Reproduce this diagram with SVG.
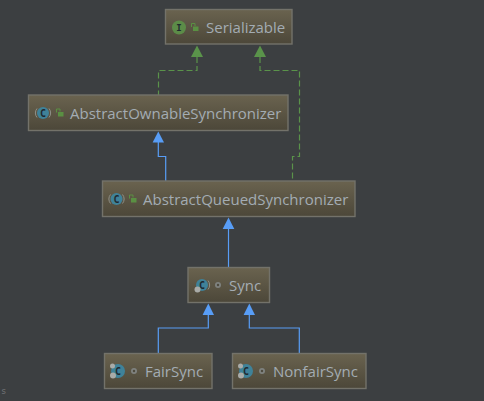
<svg xmlns="http://www.w3.org/2000/svg" width="484" height="401" viewBox="0 0 484 401">
<style>
.box{fill:url(#g);stroke:#73726a;stroke-width:1.4}
.t{font-family:"Open Sans","Noto Sans",sans-serif;font-size:15px;fill:#a3acb3}
.blue{fill:none;stroke:#589df6;stroke-width:1.2}
.green{fill:none;stroke:#5a934a;stroke-width:1.2;stroke-dasharray:6 3}
.ab{fill:#589df6}.ag{fill:#5a934a}
.cc{fill:#3f8299}.ci{fill:#5c8c48}
.l{font-family:"DejaVu Sans Mono",monospace;font-size:10px;font-weight:bold;fill:#1f2a30}
.i{font-size:9px}
.lock{fill:#5a9043}.lk{fill:none;stroke:#5a9043;stroke-width:1}
.dot{fill:#7f827f}.dot2{fill:#4d4a3e}
.gear{fill:#a9aba8}
</style>
<defs>
<linearGradient id="g" x1="0" y1="0" x2="0" y2="1"><stop offset="0" stop-color="#6a634f"/><stop offset="1" stop-color="#4c4739"/></linearGradient>
</defs>
<rect width="484" height="401" fill="#3c3f41"/>
<g id="connectors">
<path class="green" d="M197 57V70.500H158.500V95"/>
<path class="green" d="M260 57V70.500H299.500V156.500H292.500V181"/>
<path class="blue" d="M158.300 142V156.500H165.700V181"/>
<path class="blue" d="M228.500 229V267"/>
<path class="blue" d="M208.300 315V328H158.300V353"/>
<path class="blue" d="M249.300 315V328H299.300V353"/>
<polygon class="ag" points="197,45.500 203,57 191,57"/>
<polygon class="ag" points="260,45.500 266,57 254,57"/>
<polygon class="ab" points="158.300,131.500 164,142.500 152.600,142.500"/>
<polygon class="ab" points="228.500,217.500 234.300,229 222.700,229"/>
<polygon class="ab" points="208.300,303.500 214,315 202.600,315"/>
<polygon class="ab" points="249.300,303.500 255,315 243.600,315"/>
</g>
<g id="serializable">
<rect class="box" x="165.500" y="9.500" width="126.500" height="34.500"/>
<circle class="ci" cx="179" cy="27.500" r="7"/>
<text x="179" y="30.500" text-anchor="middle" class="l i">I</text>
<rect class="lock" x="193" y="26.500" width="5.500" height="4.500"/><path class="lk" d="M191.500 27V23.500H195V26"/>
<text class="t" x="206" y="33">Serializable</text>
</g>
<g id="abstractOwnableSynchronizer">
<rect class="box" x="28.500" y="95" width="259.500" height="35.500"/>
<circle class="cc" cx="43" cy="113" r="6"/>
<path d="M37 108.500A7 7 0 0 0 37 117.500M49 108.500A7 7 0 0 1 49 117.500" fill="none" stroke="#8f9088" stroke-width="1"/>
<text x="43" y="116.500" text-anchor="middle" class="l">C</text>
<rect class="lock" x="58" y="112" width="5.500" height="4.500"/><path class="lk" d="M56.500 112.500V109H60V111.500"/>
<text class="t" x="70" y="118.500">AbstractOwnableSynchronizer</text>
</g>
<g id="abstractQueuedSynchronizer">
<rect class="box" x="102.500" y="181" width="252.500" height="35.500"/>
<circle class="cc" cx="116.500" cy="199" r="6"/>
<path d="M110.500 194.500A7 7 0 0 0 110.500 203.500M122.500 194.500A7 7 0 0 1 122.500 203.500" fill="none" stroke="#8f9088" stroke-width="1"/>
<text x="116.500" y="202.500" text-anchor="middle" class="l">C</text>
<rect class="lock" x="131" y="198" width="5.500" height="4.500"/><path class="lk" d="M129.500 198.500V195H133V197.500"/>
<text class="t" x="143" y="204.500">AbstractQueuedSynchronizer</text>
</g>
<g id="sync">
<rect class="box" x="188" y="267.500" width="81.500" height="35"/>
<circle class="cc" cx="202" cy="285" r="6"/>
<path d="M208 280.500A7 7 0 0 1 208 289.500" fill="none" stroke="#8f9088" stroke-width="1"/>
<text x="202" y="288.500" text-anchor="middle" class="l">C</text>
<circle class="gear" cx="197.500" cy="289.500" r="3"/>
<circle class="dot" cx="218" cy="285" r="3"/><circle class="dot2" cx="218" cy="285" r="1.200"/>
<text class="t" x="229" y="291">Sync</text>
</g>
<g id="fairSync">
<rect class="box" x="104.500" y="353.500" width="107.500" height="35"/>
<circle class="cc" cx="118" cy="371" r="7"/>
<text x="118" y="374.500" text-anchor="middle" class="l">C</text>
<circle class="gear" cx="112.500" cy="366" r="2.500"/><circle class="gear" cx="113" cy="375.500" r="3"/>
<circle class="dot" cx="134" cy="371" r="3"/><circle class="dot2" cx="134" cy="371" r="1.200"/>
<text class="t" x="145" y="377">FairSync</text>
</g>
<g id="nonfairSync">
<rect class="box" x="232.500" y="353.500" width="133.500" height="35"/>
<circle class="cc" cx="246" cy="371" r="7"/>
<text x="246" y="374.500" text-anchor="middle" class="l">C</text>
<circle class="gear" cx="240.500" cy="366" r="2.500"/><circle class="gear" cx="241" cy="375.500" r="3"/>
<circle class="dot" cx="262" cy="371" r="3"/><circle class="dot2" cx="262" cy="371" r="1.200"/>
<text class="t" x="273" y="377">NonfairSync</text>
</g>
<text x="1" y="394" font-family="'DejaVu Sans Mono',monospace" font-size="9px" fill="#6f7274">s</text>
</svg>
